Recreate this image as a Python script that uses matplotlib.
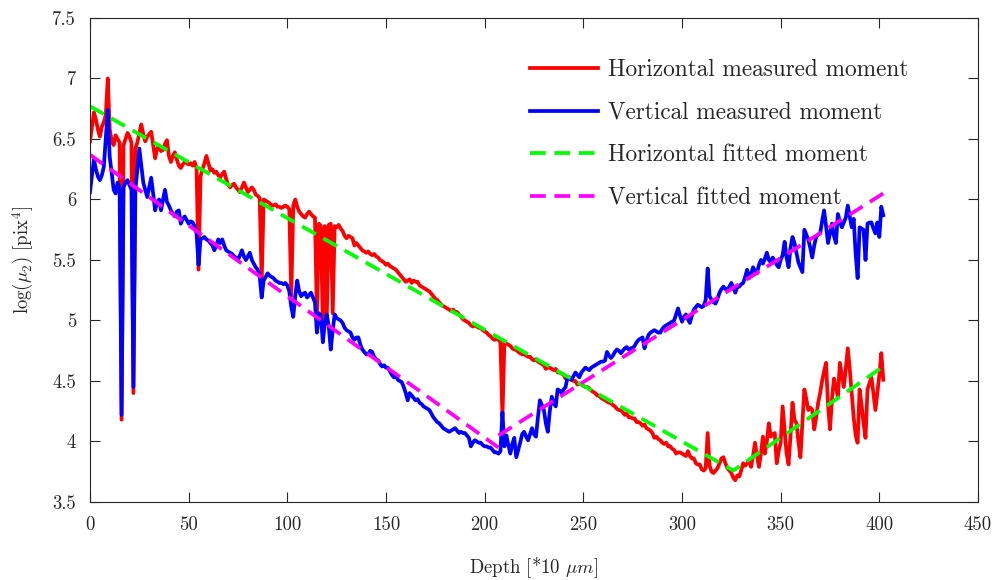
import numpy as np
import matplotlib
matplotlib.use("Agg")
import matplotlib.pyplot as plt

plt.rcParams['font.family'] = ['cmr10', 'DejaVu Serif']
plt.rcParams['mathtext.fontset'] = 'cm'
plt.rcParams['axes.formatter.use_mathtext'] = True

# ---- data ----
h_measured = [
    6.48, 6.60, 6.72, 6.66, 6.58, 6.52, 6.60, 6.64, 6.70, 7.00,
    6.58, 6.48, 6.45, 6.53, 6.50, 6.47, 4.18, 6.45, 6.50, 6.55,
    6.52, 6.47, 4.40, 6.42, 6.47, 6.55, 6.62, 6.54, 6.48, 6.52,
    6.54, 6.56, 6.45, 6.34, 6.42, 6.44, 6.40, 6.41, 6.46, 6.49,
    6.36, 6.31, 6.36, 6.39, 6.33, 6.28, 6.26, 6.29, 6.31, 6.30,
    6.29, 6.30, 6.28, 6.31, 6.26, 5.42, 6.19, 6.25, 6.30, 6.36,
    6.30, 6.24, 6.25, 6.22, 6.23, 6.20, 6.18, 6.21, 6.23, 6.17,
    6.12, 6.10, 6.12, 6.13, 6.10, 6.08, 6.06, 6.10, 6.14, 6.10,
    6.06, 6.08, 6.10, 6.08, 6.04, 6.03, 6.01, 5.32, 6.00, 5.99,
    5.98, 5.97, 5.95, 5.95, 5.96, 5.94, 5.94, 5.93, 5.94, 5.95,
    5.94, 5.92, 5.20, 5.95, 6.00, 5.94, 5.90, 5.88, 5.86, 5.85,
    5.88, 5.90, 5.88, 5.86, 5.85, 5.04, 5.80, 5.78, 4.94, 5.78,
    5.05, 5.79, 5.80, 5.06, 5.78, 5.77, 5.79, 5.76, 5.74, 5.70,
    5.68, 5.70, 5.69, 5.68, 5.62, 5.64, 5.62, 5.60, 5.58, 5.57,
    5.56, 5.57, 5.55, 5.54, 5.55, 5.53, 5.52, 5.50, 5.49, 5.48,
    5.46, 5.47, 5.45, 5.44, 5.43, 5.42, 5.40, 5.38, 5.36, 5.34,
    5.32, 5.33, 5.34, 5.31, 5.33, 5.32, 5.32, 5.29, 5.28, 5.27,
    5.26, 5.25, 5.24, 5.22, 5.20, 5.18, 5.17, 5.15, 5.13, 5.12,
    5.11, 5.10, 5.09, 5.08, 5.09, 5.07, 5.07, 5.05, 5.03, 5.01,
    5.00, 4.99, 4.98, 4.96, 4.95, 4.96, 4.95, 4.94, 4.94, 4.92,
    4.91, 4.90, 4.88, 4.87, 4.85, 4.84, 4.85, 4.84, 4.82, 4.20,
    4.82, 4.81, 4.80, 4.79, 4.77, 4.76, 4.76, 4.74, 4.73, 4.72,
    4.72, 4.71, 4.70, 4.70, 4.68, 4.67, 4.68, 4.66, 4.65, 4.64,
    4.63, 4.60, 4.61, 4.61, 4.60, 4.59, 4.60, 4.57, 4.57, 4.56,
    4.55, 4.52, 4.53, 4.53, 4.51, 4.50, 4.50, 4.47, 4.48, 4.47,
    4.46, 4.45, 4.45, 4.44, 4.42, 4.41, 4.40, 4.38, 4.38, 4.36,
    4.35, 4.34, 4.33, 4.32, 4.32, 4.30, 4.29, 4.27, 4.26, 4.26,
    4.24, 4.22, 4.23, 4.20, 4.20, 4.19, 4.19, 4.16, 4.16, 4.15,
    4.13, 4.14, 4.11, 4.10, 4.09, 4.07, 4.03, 4.04, 4.02, 4.01,
    3.99, 3.98, 3.99, 3.96, 3.96, 3.94, 3.93, 3.90, 3.91, 3.91,
    3.90, 3.89, 3.88, 3.92, 3.88, 3.86, 3.86, 3.82, 3.81, 3.81,
    3.77, 3.76, 3.78, 4.07, 3.80, 3.75, 3.74, 3.76, 3.78, 3.82,
    3.86, 3.87, 3.82, 3.78, 3.76, 3.74, 3.70, 3.68, 3.72, 3.71,
    3.76, 3.82, 3.80, 3.82, 3.84, 3.79, 3.88, 3.99, 3.88, 3.79,
    3.90, 4.04, 3.90, 4.00, 4.15, 4.04, 4.06, 4.07, 3.82, 3.92,
    3.99, 4.29, 4.10, 3.90, 3.81, 4.05, 4.32, 4.18, 4.15, 4.00,
    3.87, 4.15, 4.43, 4.35, 4.26, 4.28, 4.26, 4.10, 4.20, 4.32,
    4.40, 4.50, 4.58, 4.65, 4.30, 4.10, 4.35, 4.52, 4.45, 4.37,
    4.65, 4.55, 4.45, 4.60, 4.77, 4.60, 4.40, 4.20, 4.05, 3.99,
    4.43, 4.30, 4.15, 4.03, 4.43, 4.48, 4.53, 4.40, 4.26, 4.40,
    4.55, 4.73, 4.51,
]

v_measured = [
    6.06, 6.20, 6.33, 6.25, 6.19, 6.16, 6.20, 6.27, 6.50, 6.74,
    6.35, 6.22, 6.08, 6.05, 6.14, 6.10, 4.22, 6.10, 6.14, 6.16,
    6.12, 6.08, 4.45, 6.08, 6.25, 6.42, 6.28, 6.14, 6.08, 6.02,
    6.10, 6.18, 6.05, 5.91, 5.98, 6.00, 5.91, 6.00, 6.08, 5.98,
    5.95, 5.91, 5.88, 5.86, 5.90, 5.91, 5.80, 5.84, 5.86, 5.83,
    5.80, 5.82, 5.81, 5.78, 5.72, 5.46, 5.67, 5.68, 5.69, 5.67,
    5.66, 5.64, 5.62, 5.58, 5.62, 5.67, 5.64, 5.67, 5.62, 5.58,
    5.57, 5.56, 5.55, 5.53, 5.52, 5.50, 5.54, 5.58, 5.53, 5.50,
    5.53, 5.56, 5.50, 5.47, 5.44, 5.42, 5.36, 5.19, 5.33, 5.36,
    5.39, 5.37, 5.36, 5.35, 5.33, 5.32, 5.31, 5.31, 5.30, 5.31,
    5.29, 5.24, 5.11, 5.03, 5.20, 5.33, 5.24, 5.20, 5.22, 5.23,
    5.19, 5.21, 5.23, 5.19, 5.15, 4.90, 5.06, 5.04, 4.82, 4.98,
    5.05, 4.95, 4.76, 4.92, 5.05, 5.02, 5.01, 5.00, 4.98, 4.94,
    4.92, 4.91, 4.90, 4.86, 4.84, 4.86, 4.86, 4.80, 4.76, 4.74,
    4.72, 4.72, 4.75, 4.74, 4.70, 4.68, 4.67, 4.64, 4.62, 4.63,
    4.61, 4.61, 4.58, 4.55, 4.53, 4.54, 4.51, 4.50, 4.49, 4.45,
    4.40, 4.34, 4.40, 4.38, 4.36, 4.34, 4.35, 4.32, 4.31, 4.29,
    4.28, 4.27, 4.26, 4.23, 4.20, 4.18, 4.16, 4.15, 4.13, 4.11,
    4.10, 4.09, 4.08, 4.09, 4.10, 4.11, 4.09, 4.07, 4.08, 4.07,
    4.07, 4.05, 4.03, 3.96, 3.99, 4.01, 4.00, 3.99, 3.99, 3.97,
    3.96, 3.96, 3.95, 3.95, 3.93, 3.91, 3.91, 3.90, 3.92, 4.24,
    3.96, 4.05, 3.97, 3.90, 3.98, 4.03, 3.87, 3.93, 3.99, 4.06,
    4.08, 4.04, 4.01, 4.06, 4.11, 4.06, 4.04, 4.20, 4.34, 4.30,
    4.26, 4.15, 4.08, 4.25, 4.37, 4.32, 4.29, 4.43, 4.42, 4.40,
    4.43, 4.45, 4.53, 4.52, 4.51, 4.54, 4.57, 4.55, 4.53, 4.57,
    4.59, 4.61, 4.60, 4.59, 4.61, 4.62, 4.63, 4.64, 4.65, 4.66,
    4.66, 4.67, 4.74, 4.71, 4.69, 4.71, 4.74, 4.76, 4.75, 4.73,
    4.75, 4.77, 4.78, 4.76, 4.77, 4.77, 4.79, 4.82, 4.84, 4.85,
    4.86, 4.77, 4.83, 4.88, 4.90, 4.91, 4.92, 4.91, 4.90, 4.90,
    4.93, 4.95, 4.96, 4.97, 4.98, 4.99, 5.00, 5.05, 5.10, 5.04,
    4.99, 5.03, 5.05, 5.01, 4.98, 5.04, 5.09, 5.11, 5.13, 5.12,
    5.11, 5.12, 5.17, 5.43, 5.20, 5.17, 5.15, 5.14, 5.18, 5.23,
    5.26, 5.28, 5.26, 5.25, 5.28, 5.31, 5.27, 5.23, 5.28, 5.28,
    5.30, 5.31, 5.36, 5.42, 5.35, 5.38, 5.44, 5.41, 5.39, 5.46,
    5.50, 5.47, 5.51, 5.56, 5.50, 5.48, 5.52, 5.49, 5.46, 5.44,
    5.50, 5.54, 5.65, 5.52, 5.44, 5.60, 5.69, 5.64, 5.56, 5.48,
    5.44, 5.40, 5.75, 5.71, 5.67, 5.60, 5.52, 5.62, 5.69, 5.71,
    5.72, 5.82, 5.91, 5.78, 5.64, 5.72, 5.80, 5.70, 5.64, 5.88,
    5.82, 5.77, 5.81, 5.85, 5.95, 5.86, 5.77, 5.84, 5.55, 5.35,
    5.77, 5.76, 5.75, 5.50, 5.80, 5.81, 5.81, 5.76, 5.72, 5.81,
    5.69, 5.94, 5.87,
]

# piecewise-linear fits (segment end points)
h_fit_x = [0, 326, 402]
h_fit_y = [6.77, 3.76, 4.62]
v_fit_x = [0, 207, np.nan, 207, 402]
v_fit_y = [6.37, 3.95, np.nan, 4.05, 6.05]

labels = ['Horizontal measured moment', 'Vertical measured moment',
          'Horizontal fitted moment', 'Vertical fitted moment']
x_ticks = [0, 50, 100, 150, 200, 250, 300, 350, 400, 450]
y_ticks = [3.5, 4, 4.5, 5, 5.5, 6, 6.5, 7, 7.5]

depth = np.arange(len(h_measured))

# ---- figure ----
fig = plt.figure(figsize=(10, 5.8), dpi=100)
ax = fig.add_axes([0.09, 0.1345, 0.888, 0.8345])

LW = 2.7
ax.plot(depth, h_measured, color='#ff0000', lw=LW, label=labels[0])
ax.plot(depth, v_measured, color='#0000ff', lw=LW, label=labels[1])
ax.plot(h_fit_x, h_fit_y, color='#00ff00', lw=LW, ls=(0, (4.2, 2.3)), label=labels[2])
ax.plot(v_fit_x, v_fit_y, color='#ff00ff', lw=LW, ls=(0, (4.2, 2.3)), label=labels[3])

ax.set_xlim(0, 450)
ax.set_ylim(3.5, 7.5)
ax.set_xticks(x_ticks)
ax.set_yticks(y_ticks)
ax.set_xticklabels([str(t) for t in x_ticks])
ax.set_yticklabels([f'{t:g}' for t in y_ticks])
ax.tick_params(direction='in', length=7, width=0.8, top=True, right=True,
               labelsize=13.5, colors='#262626', pad=10)
for s in ax.spines.values():
    s.set_linewidth(0.8)
    s.set_color('#262626')

ax.set_xlabel(r'Depth [*10 $\mu m$]', fontsize=13.5, color='#262626', labelpad=15)
ax.set_ylabel(r'$\log(\mu_2)$ [pix$^4$]', fontsize=13.5, color='#262626', labelpad=12)

leg = ax.legend(loc='upper left', bbox_to_anchor=(0.530, 1 - 59 / 580),
                bbox_transform=fig.transFigure, frameon=False, fontsize=16.8,
                handlelength=2.9, handletextpad=0.45, labelspacing=0.88,
                borderpad=0, borderaxespad=0)
for t in leg.get_texts():
    t.set_color('#262626')

fig.savefig('out.png', dpi=100)
